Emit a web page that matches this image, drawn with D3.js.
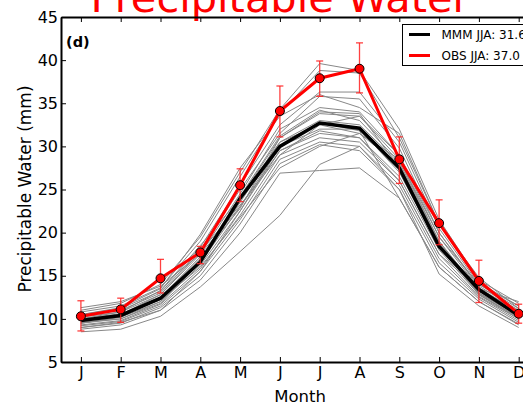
<!DOCTYPE html>
<html>
<head>
<meta charset="utf-8">
<script src="https://cdn.jsdelivr.net/npm/d3@7"></script>
<style>
  body { margin: 0; overflow: hidden; background: #fff; }
  text { font-family: "DejaVu Sans", sans-serif; }
</style>
</head>
<body>
<svg id="chart" width="523" height="405"></svg>
<script>
// ------ DATA ------

const months = ['J','F','M','A','M','J','J','A','S','O','N','D'];
const yTicks = [5, 10, 15, 20, 25, 30, 35, 40, 45];

// observations (red) with error bar ends
const obs     = [10.3, 11.1, 14.7, 17.7, 25.5, 34.1, 37.9, 39.0, 28.5, 21.1, 14.4, 10.6];
const obsHigh = [12.1, 12.4, 16.9, 18.4, 27.4, 37.0, 39.9, 42.0, 31.1, 23.8, 16.8, 11.7];
const obsLow  = [ 8.6,  9.6, 13.0, 16.4, 23.6, 31.1, 35.8, 36.2, 25.7, 18.6, 11.9,  9.5];

// multi model mean (black)
const mmm = [9.8, 10.4, 12.4, 16.6, 24.0, 30.0, 32.7, 32.1, 27.5, 18.4, 13.4, 10.4];

// individual models (grey)
const models = [
  [11.0, 11.8, 14.0, 19.5, 27.0, 34.3, 39.6, 38.8, 32.0, 21.5, 14.5, 11.8],
  [10.8, 11.5, 13.6, 19.0, 26.5, 33.8, 38.8, 38.5, 31.0, 21.0, 14.2, 11.5],
  [10.5, 11.2, 13.2, 18.3, 25.5, 32.5, 36.3, 36.3, 30.5, 20.5, 14.0, 11.2],
  [10.3, 11.0, 13.0, 18.0, 25.0, 31.5, 35.8, 35.5, 29.8, 20.0, 13.8, 11.0],
  [10.0, 10.8, 12.8, 17.5, 24.5, 32.0, 34.5, 34.0, 29.0, 19.5, 13.5, 10.8],
  [ 9.8, 10.5, 12.5, 17.0, 24.0, 31.0, 33.8, 33.5, 28.5, 19.0, 13.3, 10.6],
  [ 9.7, 10.3, 12.3, 16.8, 23.5, 30.5, 33.0, 32.5, 28.0, 18.7, 13.0, 10.4],
  [ 9.5, 10.2, 12.0, 16.5, 23.0, 30.0, 32.0, 32.0, 27.0, 18.3, 13.0, 10.3],
  [ 9.5, 10.0, 12.0, 16.2, 22.5, 29.5, 31.5, 31.0, 26.5, 18.0, 12.8, 10.2],
  [ 9.3,  9.8, 11.7, 15.8, 22.0, 29.0, 31.0, 30.5, 26.0, 17.5, 12.6, 10.0],
  [ 9.2,  9.7, 11.5, 15.5, 21.5, 28.5, 30.5, 30.0, 25.5, 17.0, 12.5,  9.8],
  [ 9.0,  9.5, 11.3, 15.0, 21.0, 28.0, 30.2, 29.5, 25.0, 16.5, 12.3,  9.6],
  [ 8.8,  9.3, 11.0, 14.5, 20.0, 26.9, 27.2, 27.5, 24.0, 16.0, 12.0,  9.4],
  [ 8.5,  8.8, 10.3, 13.7, 17.8, 22.0, 27.9, 30.0, 25.0, 15.2, 11.5,  9.0],
  [10.2, 10.8, 13.3, 18.5, 24.0, 30.5, 32.5, 31.5, 28.5, 19.5, 14.0, 11.5],
  [ 9.8, 10.5, 12.8, 17.8, 23.2, 29.0, 32.5, 33.5, 29.0, 20.0, 13.6, 10.8],
  [ 9.5, 10.2, 12.5, 17.2, 22.8, 31.0, 34.0, 33.8, 27.5, 18.5, 12.8, 10.0],
  [10.0, 10.6, 12.2, 16.0, 21.8, 27.5, 30.0, 31.5, 27.8, 18.8, 13.2, 10.5],
  [11.3, 12.0, 13.8, 17.5, 23.0, 29.5, 31.8, 31.0, 26.0, 17.5, 13.5, 12.0],
  [ 9.0,  9.6, 11.0, 15.5, 22.5, 30.0, 32.8, 31.8, 24.0, 16.0, 12.0,  9.3],
  [10.5, 11.3, 13.5, 19.8, 27.5, 33.5, 36.0, 34.5, 31.5, 21.0, 14.8, 11.2],
  [ 9.6, 10.0, 11.8, 16.6, 24.2, 31.2, 34.2, 33.0, 28.2, 19.0, 12.9, 10.1]
];

// ------ CHART ------

const plot = {left: 61, right: 538.6, top: 17, bottom: 362};

const svg = d3.select('#chart');

const x = d3.scaleLinear().domain([0.5, 12.5]).range([plot.left, plot.right]);
const y = d3.scaleLinear().domain([5, 45]).range([plot.bottom, plot.top]);

const line = d3.line()
  .x((d, i) => x(i + 1))
  .y(d => y(d));

// title (mostly cut off at top of the figure)
svg.append('text')
  .attr('x', 280).attr('y', 11.5)
  .attr('text-anchor', 'middle')
  .attr('fill', '#ff0000')
  .style('font-size', '41.5px')
  .text('Precipitable Water');

// grey model lines
svg.append('g')
  .selectAll('path')
  .data(models)
  .join('path')
    .attr('fill', 'none')
    .attr('stroke', '#888')
    .attr('stroke-width', 1)
    .attr('d', line);

// multi model mean
svg.append('path')
  .datum(mmm)
  .attr('fill', 'none')
  .attr('stroke', '#000')
  .attr('stroke-width', 3.5)
  .attr('d', line);

// observations
svg.append('path')
  .datum(obs)
  .attr('fill', 'none')
  .attr('stroke', '#ff0000')
  .attr('stroke-width', 3)
  .attr('d', line);

// error bars
const eb = svg.append('g')
  .attr('stroke', '#ff2020')
  .attr('stroke-opacity', 0.85)
  .attr('stroke-width', 1.3);
obs.forEach(function(d, i) {
  const cx = x(i + 1);
  eb.append('line').attr('x1', cx).attr('x2', cx).attr('y1', y(obsLow[i])).attr('y2', y(obsHigh[i]));
  eb.append('line').attr('x1', cx - 3.5).attr('x2', cx + 3.5).attr('y1', y(obsLow[i])).attr('y2', y(obsLow[i]));
  eb.append('line').attr('x1', cx - 3.5).attr('x2', cx + 3.5).attr('y1', y(obsHigh[i])).attr('y2', y(obsHigh[i]));
});

// markers
svg.append('g')
  .selectAll('circle')
  .data(obs)
  .join('circle')
    .attr('cx', (d, i) => x(i + 1))
    .attr('cy', d => y(d))
    .attr('r', 4.5)
    .attr('fill', '#ff0000')
    .attr('stroke', '#000')
    .attr('stroke-width', 1);

// ------ AXES ------

const yAxis = svg.append('g')
  .attr('transform', `translate(${plot.left},0)`)
  .call(d3.axisLeft(y).tickValues(yTicks).tickFormat(d3.format('d')).tickSize(-5).tickSizeOuter(0).tickPadding(3));

const xAxis = svg.append('g')
  .attr('transform', `translate(0,${plot.bottom})`)
  .call(d3.axisBottom(x).tickValues(d3.range(1, 13)).tickFormat(d => months[d - 1]).tickSize(-5).tickSizeOuter(0).tickPadding(5));

const xTop = svg.append('g')
  .attr('transform', `translate(0,${plot.top})`)
  .call(d3.axisTop(x).tickValues(d3.range(1, 13)).tickFormat('').tickSize(-5).tickSizeOuter(0));

[yAxis, xAxis, xTop].forEach(function(g) {
  g.select('.domain').attr('stroke-width', 2);
  g.selectAll('.tick line').attr('stroke-width', 1);
  g.selectAll('.tick text').style('font-size', '16px').attr('fill', '#000');
});

// axis labels
svg.append('text')
  .attr('x', 300).attr('y', 402)
  .attr('text-anchor', 'middle')
  .style('font-size', '16.5px')
  .text('Month');

svg.append('text')
  .attr('transform', 'translate(31,189) rotate(-90)')
  .attr('text-anchor', 'middle')
  .style('font-size', '17px')
  .text('Precipitable Water (mm)');

// panel letter
svg.append('text')
  .attr('x', 66).attr('y', 47)
  .style('font-size', '14.5px')
  .style('font-weight', 'bold')
  .text('(d)');

// ------ LEGEND ------

const legend = svg.append('g');
legend.append('rect')
  .attr('x', 402.5).attr('y', 24.5)
  .attr('width', 140).attr('height', 41)
  .attr('fill', '#fff')
  .attr('stroke', '#000')
  .attr('stroke-width', 1);

const legendItems = [
  {label: 'MMM JJA: 31.6', color: '#000', yy: 34.5},
  {label: 'OBS JJA: 37.0', color: '#ff0000', yy: 55.5}
];
legendItems.forEach(function(d) {
  legend.append('line')
    .attr('x1', 409).attr('x2', 430)
    .attr('y1', d.yy).attr('y2', d.yy)
    .attr('stroke', d.color)
    .attr('stroke-width', 3);
  legend.append('text')
    .attr('x', 441.5).attr('y', d.yy + 4.5)
    .style('font-size', '12px')
    .text(d.label);
});
</script>
</body>
</html>
